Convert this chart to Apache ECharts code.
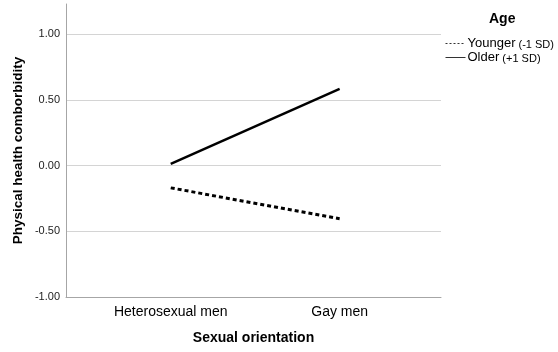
<!DOCTYPE html>
<html>
<head>
<meta charset="utf-8">
<script src="https://cdn.jsdelivr.net/npm/echarts@6/dist/echarts.min.js"></script>
<style>
  html, body { margin: 0; padding: 0; background: #fff; }
  #chart { width: 558px; height: 352px; }
</style>
</head>
<body>
<div id="chart"></div>
<script>
// Group positions on the x axis and their labels
const groupPositions = [0, 1];
const groupLabels = ['Heterosexual men', 'Gay men'];

// Estimated marginal means of physical health comorbidity by age level
const youngerValues = [-0.17, -0.405];
const olderValues = [0.013, 0.583];

// Y axis tick values
const yTicks = [-1.0, -0.5, 0.0, 0.5, 1.0];

const seriesNames = ['Younger (-1 SD)', 'Older (+1 SD)'];

const font = 'Liberation Sans, Arial, sans-serif';

const chart = echarts.init(document.getElementById('chart'), null, { renderer: 'canvas' });

chart.setOption({
  animation: false,
  backgroundColor: '#ffffff',
  textStyle: { fontFamily: font },
  title: {
    text: 'Age',
    left: 484,
    top: 7,
    textStyle: { fontFamily: font, fontSize: 14, fontWeight: 'bold', color: '#000' }
  },
  legend: {
    orient: 'vertical',
    left: 440,
    top: 32,
    itemGap: 1,
    itemWidth: 20,
    itemHeight: 10,
    itemStyle: { opacity: 0 },
    data: [
      { name: seriesNames[0], lineStyle: { type: [2, 2], width: 1, color: '#333' } },
      { name: seriesNames[1], lineStyle: { type: 'solid', width: 1, color: '#333' } }
    ],
    formatter: function (name) {
      const i = name.indexOf(' (');
      return '{a|' + name.slice(0, i) + '}{b|' + name.slice(i) + '}';
    },
    textStyle: {
      padding: [0, 0, 0, -3],
      rich: {
        a: { fontFamily: font, fontSize: 13, color: '#000', lineHeight: 15 },
        b: { fontFamily: font, fontSize: 11, color: '#000', lineHeight: 15, padding: [2, 0, 0, 0] }
      }
    }
  },
  grid: [
    { left: 66, right: 117, top: 34, bottom: 55 },
    { left: 66, right: 117, top: 4, bottom: 55 }
  ],
  xAxis: [
    {
      type: 'value',
      gridIndex: 0,
      min: -0.62,
      max: 1.6,
      name: 'Sexual orientation',
      nameLocation: 'middle',
      nameGap: 34,
      nameTextStyle: { fontFamily: font, fontSize: 14, fontWeight: 'bold', color: '#000' },
      axisLine: { show: true, onZero: false, lineStyle: { color: '#a6a6a6', width: 1 } },
      axisTick: { show: false },
      splitLine: { show: false },
      axisLabel: {
        customValues: groupPositions,
        margin: 8,
        fontFamily: font,
        fontSize: 14,
        color: '#000',
        formatter: function (v) {
          const i = groupPositions.indexOf(v);
          return i >= 0 ? groupLabels[i] : '';
        }
      }
    },
    {
      type: 'value',
      gridIndex: 1,
      min: 0,
      max: 1,
      show: false
    }
  ],
  yAxis: [
    {
      type: 'value',
      gridIndex: 0,
      min: -1,
      max: 1,
      interval: 0.5,
      axisLine: { show: false },
      axisTick: { show: false },
      splitLine: { show: true, lineStyle: { color: '#d4d4d4', width: 1 } },
      axisLabel: {
        customValues: yTicks,
        margin: 6,
        fontFamily: font,
        fontSize: 11,
        color: '#222',
        formatter: function (v) { return v.toFixed(2); }
      }
    },
    {
      type: 'value',
      gridIndex: 1,
      min: 0,
      max: 1,
      name: 'Physical health comborbidity',
      nameLocation: 'middle',
      nameGap: 41,
      nameTextStyle: { fontFamily: font, fontSize: 13.5, fontWeight: 'bold', color: '#000' },
      axisLine: { show: true, onZero: false, lineStyle: { color: '#a6a6a6', width: 1 } },
      axisTick: { show: false },
      axisLabel: { show: false },
      splitLine: { show: false }
    }
  ],
  series: [
    {
      name: seriesNames[0],
      type: 'line',
      xAxisIndex: 0,
      yAxisIndex: 0,
      data: groupPositions.map((x, i) => [x, youngerValues[i]]),
      symbol: 'none',
      itemStyle: { color: '#000' },
      lineStyle: { color: '#000', width: 3, type: [4, 3] }
    },
    {
      name: seriesNames[1],
      type: 'line',
      xAxisIndex: 0,
      yAxisIndex: 0,
      data: groupPositions.map((x, i) => [x, olderValues[i]]),
      symbol: 'none',
      itemStyle: { color: '#000' },
      lineStyle: { color: '#000', width: 2.5, type: 'solid' }
    }
  ]
});
</script>
</body>
</html>
